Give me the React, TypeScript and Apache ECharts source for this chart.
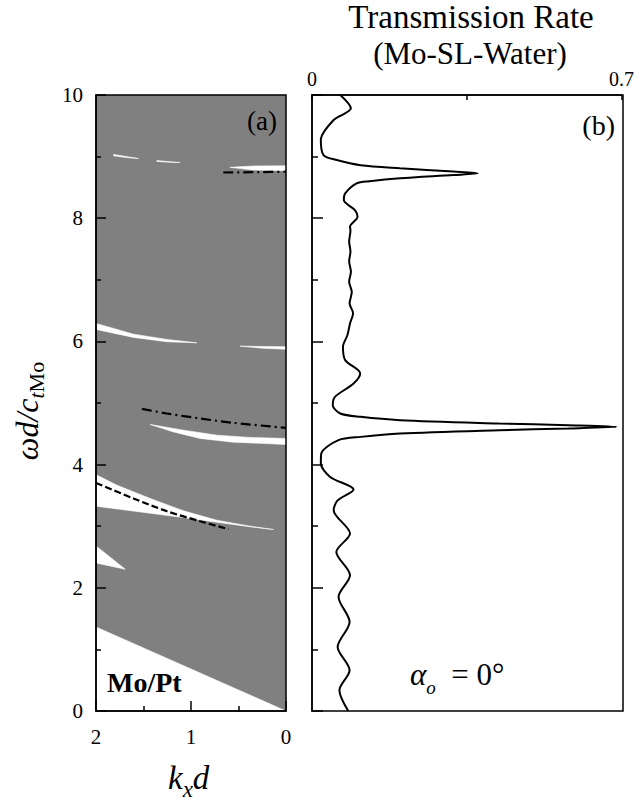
import React, { useEffect, useRef } from 'react';
import * as echarts from 'echarts';

const FONT = "'Liberation Serif', 'Times New Roman', 'DejaVu Serif', serif";
const GRAY = '#808080';

// ---- tick labels ----
const kxTickLabels = [0, 1, 2];
const omegaTickLabels = [0, 2, 4, 6, 8, 10];
const rateTickLabels = [0, 0.7];

// ---- panel (a): white stop-band regions, points as [k_x d, ωd/c_tMo] ----
const bandBottom = [[2, 0], [2, 1.364], [0, 0]];
const bandSmall = [[2, 2.68], [1.692, 2.301], [2, 2.404]];
const bandLow = [
  [2, 3.837], [1.779, 3.666], [1.429, 3.449], [1.079, 3.249], [0.728, 3.097], [0.378, 3.0], [0.133, 2.946],
  [0.378, 2.99], [0.728, 3.065], [1.079, 3.14], [1.429, 3.21], [2, 3.325],
];
const bandMid = [
  [1.429, 4.651], [1.079, 4.559], [0.728, 4.478], [0.378, 4.44], [0, 4.424],
  [0, 4.327], [0.554, 4.364], [0.904, 4.424], [1.184, 4.531],
];
const band6 = [
  [2, 6.292], [1.605, 6.118], [1.254, 6.032], [0.939, 5.977],
  [1.254, 5.994], [1.605, 6.065], [2, 6.195],
];
const band59 = [[0.483, 5.923], [0.25, 5.918], [0, 5.915], [0, 5.872], [0.25, 5.89]];
const band9a = [[1.815, 9.035], [1.68, 9.0], [1.552, 8.968], [1.68, 8.985], [1.815, 9.012]];
const band9b = [[1.36, 8.935], [1.23, 8.918], [1.115, 8.903], [1.23, 8.91], [1.36, 8.922]];
const band9c = [[0.59, 8.826], [0.344, 8.847], [0, 8.85], [0, 8.772], [0.344, 8.782]];

// ---- panel (a): curves ----
const dashDotTop = [[0.66, 8.742], [0.3, 8.748], [0, 8.755]];
const dashDotMid = [[1.517, 4.905], [1.254, 4.83], [0.904, 4.749], [0.554, 4.678], [0, 4.597]];
const dashedLow = [[2, 3.703], [1.605, 3.45], [1.254, 3.243], [0.904, 3.081], [0.606, 2.951]];

// ---- panel (b): transmission rate vs ωd/c_tMo ----
const transOmega = [
  0.0, 0.336, 0.661, 1.04, 1.446, 1.852, 2.204, 2.582, 2.881, 3.26, 3.42, 3.596, 3.8, 4.018, 4.18,
  4.397, 4.45, 4.505, 4.559, 4.586, 4.613, 4.64, 4.668, 4.721, 4.775, 4.83, 4.965, 5.1, 5.317, 5.48,
  5.696, 5.912, 6.1, 6.292, 6.455, 6.62, 6.8, 6.97, 7.13, 7.3, 7.46, 7.62, 7.8, 7.861, 8.023, 8.132,
  8.295, 8.403, 8.566, 8.6, 8.647, 8.7, 8.728, 8.757, 8.81, 8.86, 8.944, 9.025, 9.269, 9.594, 9.784, 10.0,
];
const transRate = [
  0.082, 0.062, 0.085, 0.058, 0.085, 0.060, 0.086, 0.055, 0.086, 0.049, 0.058, 0.094, 0.041, 0.020, 0.021,
  0.06, 0.11, 0.199, 0.423, 0.58, 0.689, 0.58, 0.423, 0.199, 0.11, 0.064, 0.047, 0.052, 0.094, 0.109,
  0.075, 0.070, 0.080, 0.086, 0.093, 0.085, 0.090, 0.084, 0.088, 0.084, 0.087, 0.084, 0.087, 0.086, 0.103, 0.097,
  0.072, 0.075, 0.101, 0.13, 0.199, 0.32, 0.375, 0.32, 0.199, 0.11, 0.056, 0.026, 0.020, 0.049, 0.088, 0.064,
];

const whiteBands = [bandBottom, bandSmall, bandLow, bandMid, band6, band59, band9a, band9b, band9c];

const tickLine = { color: '#000', width: 1.5 };

function bandSeries(points: number[][]) {
  return {
    type: 'custom',
    xAxisIndex: 0,
    yAxisIndex: 0,
    silent: true,
    clip: true,
    z: 2,
    data: points,
    renderItem: (params: any, api: any) => {
      if (params.dataIndex !== 0) return null;
      const pts = points.map((p) => api.coord(p));
      return { type: 'polygon', shape: { points: pts }, style: { fill: '#fff', stroke: '#fff', lineWidth: 0.6 } };
    },
  };
}

function lineSeries(points: number[][], type: any) {
  return {
    type: 'line',
    xAxisIndex: 0,
    yAxisIndex: 0,
    data: points,
    smooth: 0.3,
    showSymbol: false,
    silent: true,
    z: 4,
    lineStyle: { color: '#000', width: 2.2, type },
  };
}

function fmt(list: number[]) {
  return (v: number) => (list.some((t) => Math.abs(t - v) < 1e-6) ? String(v) : '');
}

export default function App() {
  const ref = useRef<HTMLDivElement>(null);
  useEffect(() => {
    if (!ref.current) return;
    const chart = echarts.init(ref.current, undefined, { renderer: 'svg' });
    const option: any = {
      animation: false,
      backgroundColor: '#fff',
      grid: [
        { left: 96, top: 95, width: 190, height: 616, show: true, backgroundColor: GRAY, borderWidth: 0 },
        { left: 312, top: 95, width: 311, height: 616, show: false },
      ],
      xAxis: [
        {
          gridIndex: 0, type: 'value', min: 0, max: 2, interval: 1, inverse: true, position: 'bottom', z: 10,
          axisLine: { show: true, onZero: false, lineStyle: tickLine },
          axisTick: { show: true, inside: true, length: 10, lineStyle: tickLine },
          minorTick: { show: true, splitNumber: 2, length: 5, lineStyle: tickLine },
          axisLabel: { margin: 15, fontFamily: FONT, fontSize: 21, color: '#000', formatter: fmt(kxTickLabels), showMinLabel: true, showMaxLabel: true },
          splitLine: { show: false },
        },
        {
          gridIndex: 1, type: 'value', min: 0, max: 0.7, interval: 0.35, position: 'top', z: 10,
          axisLine: { show: true, onZero: false, lineStyle: tickLine },
          axisTick: { show: true, inside: true, length: 5, lineStyle: tickLine },
          axisLabel: { margin: 6, fontFamily: FONT, fontSize: 20, color: '#000', formatter: fmt(rateTickLabels), showMinLabel: true, showMaxLabel: true },
          splitLine: { show: false },
        },
      ],
      yAxis: [
        {
          gridIndex: 0, type: 'value', min: 0, max: 10, interval: 2, position: 'left', z: 10,
          axisLine: { show: true, onZero: false, lineStyle: tickLine },
          axisTick: { show: true, inside: true, length: 10, lineStyle: tickLine },
          minorTick: { show: true, splitNumber: 2, length: 5, lineStyle: tickLine },
          axisLabel: { margin: 13, fontFamily: FONT, fontSize: 21, color: '#000', padding: [8, 0, 0, 0], formatter: fmt(omegaTickLabels), showMinLabel: true, showMaxLabel: true },
          splitLine: { show: false },
        },
        {
          gridIndex: 1, type: 'value', min: 0, max: 10, interval: 2, position: 'left', z: 10,
          axisLine: { show: true, onZero: false, lineStyle: tickLine },
          axisTick: { show: true, inside: true, length: 11, lineStyle: tickLine },
          minorTick: { show: true, splitNumber: 2, length: 6, lineStyle: tickLine },
          axisLabel: { show: false },
          splitLine: { show: false },
        },
      ],
      series: [
        ...whiteBands.map(bandSeries),
        lineSeries(dashDotTop, [10, 4, 2, 4]),
        lineSeries(dashDotMid, [10, 4, 2, 4]),
        lineSeries(dashedLow, [7, 3]),
        {
          type: 'line',
          xAxisIndex: 1,
          yAxisIndex: 1,
          data: transOmega.map((w, i) => [transRate[i], w]),
          smooth: 0.3,
          showSymbol: false,
          silent: true,
          z: 4,
          lineStyle: { color: '#000', width: 2 },
        },
      ],
      graphic: [
        { type: 'rect', z: 100, silent: true, shape: { x: 96, y: 95, width: 190, height: 616 }, style: { fill: 'none', stroke: '#000', lineWidth: 1.5 } },
        { type: 'rect', z: 100, silent: true, shape: { x: 312, y: 95, width: 311, height: 616 }, style: { fill: 'none', stroke: '#000', lineWidth: 1.5 } },
        {
          type: 'text', x: 471, y: 16.5, z: 100,
          style: { text: 'Transmission Rate', fontFamily: FONT, fontSize: 33, fill: '#000', align: 'center', verticalAlign: 'middle', textAlign: 'center', textVerticalAlign: 'middle' },
        },
        {
          type: 'text', x: 470, y: 53.5, z: 100,
          style: { text: '(Mo-SL-Water)', fontFamily: FONT, fontSize: 31, fill: '#000', align: 'center', verticalAlign: 'middle', textAlign: 'center', textVerticalAlign: 'middle' },
        },
        {
          type: 'text', x: 277, y: 121, z: 100,
          style: { text: '(a)', fontFamily: FONT, fontSize: 27, fill: '#000', align: 'right', verticalAlign: 'middle', textAlign: 'right', textVerticalAlign: 'middle' },
        },
        {
          type: 'text', x: 615, y: 125, z: 100,
          style: { text: '(b)', fontFamily: FONT, fontSize: 28, fill: '#000', align: 'right', verticalAlign: 'middle', textAlign: 'right', textVerticalAlign: 'middle' },
        },
        {
          type: 'text', x: 107, y: 682, z: 100,
          style: { text: 'Mo/Pt', fontFamily: FONT, fontSize: 28, fontWeight: 'bold', fill: '#000', align: 'left', verticalAlign: 'middle', textAlign: 'left', textVerticalAlign: 'middle' },
        },
        {
          type: 'text', x: 410, y: 674, z: 100,
          style: {
            text: '{m|α}{s|o}{n|\u2002= 0°}', align: 'left', verticalAlign: 'middle', textAlign: 'left', textVerticalAlign: 'middle', fill: '#000',
            rich: {
              m: { fontFamily: FONT, fontSize: 31, fontStyle: 'italic', fill: '#000', color: '#000' },
              s: { fontFamily: FONT, fontSize: 19, fontStyle: 'italic', fill: '#000', color: '#000', padding: [26, 0, 0, 0] },
              n: { fontFamily: FONT, fontSize: 31, fill: '#000', color: '#000' },
            },
          },
        },
        {
          type: 'text', x: 168, y: 778, z: 100,
          style: {
            text: '{m|k}{s|x}{m|d}', align: 'left', verticalAlign: 'middle', textAlign: 'left', textVerticalAlign: 'middle', fill: '#000',
            rich: {
              m: { fontFamily: FONT, fontSize: 33, fontStyle: 'italic', fill: '#000', color: '#000' },
              s: { fontFamily: FONT, fontSize: 23, fontStyle: 'italic', fill: '#000', color: '#000', padding: [23, 0, 0, 0] },
            },
          },
        },
        {
          type: 'text', x: 27, y: 411, z: 100, rotation: Math.PI / 2,
          style: {
            text: '{m|ωd/c}{s|t}{u|Mo}', align: 'center', verticalAlign: 'middle', textAlign: 'center', textVerticalAlign: 'middle', fill: '#000',
            rich: {
              m: { fontFamily: FONT, fontSize: 32, fontStyle: 'italic', fill: '#000', color: '#000' },
              s: { fontFamily: FONT, fontSize: 22, fontStyle: 'italic', fill: '#000', color: '#000', padding: [18, 0, 0, 0] },
              u: { fontFamily: FONT, fontSize: 22, fill: '#000', color: '#000', padding: [18, 0, 0, 0] },
            },
          },
        },
      ],
    };
    chart.setOption(option);
    return () => chart.dispose();
  }, []);
  return <div ref={ref} style={{ position: 'absolute', left: 0, top: 0, width: 637, height: 802 }} />;
}
